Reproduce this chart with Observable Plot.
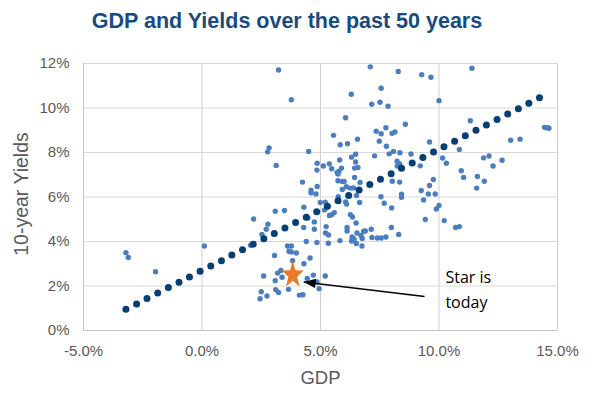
<!DOCTYPE html>
<html>
<head>
<meta charset="utf-8">
<script src="https://cdn.jsdelivr.net/npm/d3@7"></script>
<script src="https://cdn.jsdelivr.net/npm/@observablehq/plot@0.6"></script>
<style>
  html, body { margin: 0; padding: 0; background: #fff; }
  #wrap { width: 594px; height: 398px; position: relative; overflow: hidden; }
  #title { height: 44px; width: 594px; box-sizing: border-box; padding-right: 20px; padding-top: 7px;
    text-align: center; font-family: "Liberation Sans", Arial, sans-serif; font-weight: bold;
    font-size: 21.5px; color: #174B80; line-height: 28px; }
  svg { display: block; }
</style>
</head>
<body>
<div id="wrap">
  <div id="title">GDP and Yields over the past 50 years</div>
  <div id="chart"></div>
</div>
<script>
// Historical observations (GDP growth %, 10-year yield %)
const lightGdp = [
  -3.21,-3.11,-1.96,0.10,3.23,3.77,7.10,7.56,6.30,7.16,
  7.51,7.85,6.06,7.35,7.56,7.76,5.55,6.14,5.83,6.56,
  7.48,7.78,2.83,2.77,4.50,6.31,6.48,7.28,7.90,5.81,
  6.48,4.86,5.37,3.13,5.12,4.85,5.47,5.89,5.70,6.44,
  6.58,5.78,5.74,6.44,6.67,5.74,5.92,6.00,4.24,4.86,
  6.09,6.26,6.40,5.92,4.60,4.60,4.81,6.52,7.55,5.75,
  7.69,4.99,5.20,6.06,6.10,6.65,4.30,3.09,3.48,5.17,
  5.48,5.58,5.38,6.26,6.35,2.18,4.47,4.74,6.50,2.78,
  2.71,4.29,4.74,5.24,6.12,6.12,6.82,6.89,7.14,5.21,
  5.34,6.54,6.33,6.40,6.71,6.76,2.53,7.17,7.40,7.56,
  7.76,4.40,4.85,5.33,5.82,6.31,6.41,6.51,6.75,2.05,
  3.61,3.77,3.67,3.77,3.98,3.06,4.56,4.30,3.82,3.19,
  3.33,2.60,3.38,3.09,4.70,4.44,5.20,4.85,4.94,3.11,
  3.23,3.65,2.50,2.74,2.45,4.11,4.26,
  8.28,9.27,9.66,11.39,10.00,11.32,8.58,8.02,8.14,9.60,
  10.86,8.08,8.35,8.82,8.23,10.15,10.31,8.34,8.24,9.21,
  11.88,12.11,12.66,12.28,13.02,13.42,14.45,14.56,14.64,10.94,
  11.04,11.62,11.91,11.59,8.03,8.34,9.76,9.60,9.25,9.55,
  9.84,8.42,8.42,9.35,
  8.00,10.00,9.89,9.42,10.22,10.70,10.86,7.99,8.30
];
const lightYield = [
  3.50,3.28,2.64,3.80,11.71,10.37,11.85,10.89,10.62,10.17,
  10.26,10.08,9.56,8.96,8.84,9.11,8.77,8.39,8.35,8.60,
  8.51,8.28,8.21,8.03,8.05,7.79,7.92,7.85,7.94,7.66,
  7.57,7.52,7.49,7.42,7.39,7.21,7.27,7.30,7.10,7.30,
  7.33,7.16,7.03,6.88,6.65,6.73,6.70,6.70,6.67,6.47,
  6.46,6.40,6.41,6.34,6.31,6.19,6.14,6.07,6.01,6.01,
  5.72,5.75,5.77,5.78,5.68,5.75,5.54,5.36,5.39,5.42,
  5.21,5.30,5.17,5.21,5.10,5.01,5.06,4.88,4.83,4.78,
  4.55,4.63,4.55,4.67,4.63,4.47,4.46,4.47,4.55,4.38,
  4.29,4.38,4.20,4.13,4.27,4.14,4.32,4.18,4.16,4.16,
  4.20,4.00,3.96,3.92,4.04,4.02,4.09,3.91,3.80,3.83,
  3.80,3.80,3.56,3.53,3.48,3.37,3.26,3.00,3.14,2.58,
  2.70,2.45,2.39,2.24,2.49,2.34,2.45,2.18,1.88,1.83,
  1.71,1.85,1.74,1.55,1.43,1.59,1.61,
  11.64,11.50,11.38,11.79,10.33,9.43,9.27,8.86,8.92,8.47,
  8.14,8.05,7.99,7.93,7.61,7.75,7.52,7.49,7.39,7.40,
  7.76,7.84,7.65,7.39,8.55,8.60,9.13,9.11,9.09,7.18,
  6.88,6.92,6.71,6.40,6.71,6.67,6.79,6.52,6.29,6.14,
  6.14,6.13,5.99,5.87,
  5.51,5.62,5.46,4.99,4.94,4.63,4.67,4.63,4.32
];
// Trend line dots
const trendGdp = [
  -3.21,-2.76,-2.32,-1.87,-1.42,-0.97,-0.53,-0.08,0.37,0.82,
  1.26,1.71,2.16,2.61,3.05,3.50,3.95,4.40,4.84,5.29,
  5.74,6.19,6.63,7.08,7.53,7.98,8.42,8.87,9.32,9.77,
  10.21,10.66,11.11,11.56,12.00,12.45,12.90,13.35,13.79,14.24
];
const trendYield = [
  0.95,1.19,1.44,1.68,1.93,2.17,2.41,2.66,2.90,3.14,
  3.39,3.63,3.88,4.12,4.36,4.61,4.85,5.09,5.34,5.58,
  5.83,6.07,6.31,6.56,6.80,7.05,7.29,7.53,7.78,8.02,
  8.26,8.51,8.75,9.00,9.24,9.48,9.73,9.97,10.21,10.46
];
// Today
const starGdp = [3.83];
const starYield = [2.50];
// Annotation
const noteText = ["Star is\ntoday"];
const noteGdp = [10.27];
const noteYield = [2.95];
const arrowFromGdp = [9.39], arrowFromYield = [1.53];
const arrowToGdp = [4.29], arrowToYield = [2.18];

const xTicks = [-5, 0, 5, 10, 15];
const yTicks = [0, 2, 4, 6, 8, 10, 12];

const tallStar = {
  draw(ctx, size) {
    const R = 14.5, kr = 0.40, sx = 0.8;
    for (let i = 0; i < 10; i++) {
      const a = -Math.PI / 2 + i * Math.PI / 5;
      const rr = i % 2 === 0 ? R : R * kr;
      const px = Math.cos(a) * rr * sx, py = Math.sin(a) * rr;
      if (i === 0) ctx.moveTo(px, py); else ctx.lineTo(px, py);
    }
    ctx.closePath();
  }
};
const arrowHead = {
  draw(ctx, size) {
    const L = 12, W = 9.5;
    ctx.moveTo(0, 0);
    ctx.lineTo(-W / 2, L);
    ctx.lineTo(W / 2, L);
    ctx.closePath();
  }
};
const headAngle = -83.3;
const headIdx = [0];

const chart = Plot.plot({
  width: 594,
  height: 354,
  marginTop: 19,
  marginBottom: 68,
  marginLeft: 83,
  marginRight: 37,
  style: { fontFamily: "'Liberation Sans', Arial, sans-serif", fontSize: "15px", color: "#595959", background: "#fff" },
  x: { domain: [-5, 15], label: null },
  y: { domain: [0, 12], label: null },
  marks: [
    Plot.ruleY(yTicks.slice(1), { stroke: "#D9D9D9", strokeWidth: 1 }),
    Plot.ruleX(xTicks.slice(1), { stroke: "#D0D0D0", strokeWidth: 1 }),
    Plot.ruleX([-5], { stroke: "#C4C4C4", strokeWidth: 1 }),
    Plot.ruleY([0], { stroke: "#C4C4C4", strokeWidth: 1 }),
    Plot.axisX({ ticks: xTicks, tickSize: 0, tickPadding: 15, tickFormat: d => d.toFixed(1) + "%", label: null, fill: "#595959", fontSize: 15 }),
    Plot.axisY({ ticks: yTicks, tickSize: 0, tickPadding: 14, tickFormat: d => d + "%", label: null, fill: "#595959", fontSize: 15 }),
    Plot.text(["GDP"], { frameAnchor: "bottom", dy: 48, text: d => d, fill: "#595959", fontSize: 18.5, lineAnchor: "middle" }),
    Plot.text(["10-year Yields"], { frameAnchor: "left", dx: -62, dy: -3, rotate: -90, textAnchor: "middle", text: d => d, fill: "#595959", fontSize: 19.5, lineAnchor: "middle" }),
    Plot.dot(lightGdp, { x: lightGdp, y: lightYield, r: 2.7, fill: "#4A7EC0", stroke: null }),
    Plot.dot(trendGdp, { x: trendGdp, y: trendYield, r: 3.5, fill: "#073E74", stroke: null }),
    Plot.dot(starGdp, { x: starGdp, y: starYield, symbol: tallStar, r: 8, fill: "#E97A25", stroke: null }),
    Plot.link(headIdx, { x1: arrowFromGdp, y1: arrowFromYield, x2: arrowToGdp, y2: arrowToYield, stroke: "#000", strokeWidth: 1.5 }),
    Plot.dot(headIdx, { x: arrowToGdp, y: arrowToYield, symbol: arrowHead, rotate: headAngle, fill: "#000", stroke: null }),
    Plot.text(noteText, { x: noteGdp, y: noteYield, text: d => d, textAnchor: "start", lineAnchor: "top", lineHeight: 1.56, fontFamily: "'Open Sans', sans-serif", fontSize: 16, fill: "#000" })
  ]
});
document.getElementById("chart").appendChild(chart);
</script>
</body>
</html>
